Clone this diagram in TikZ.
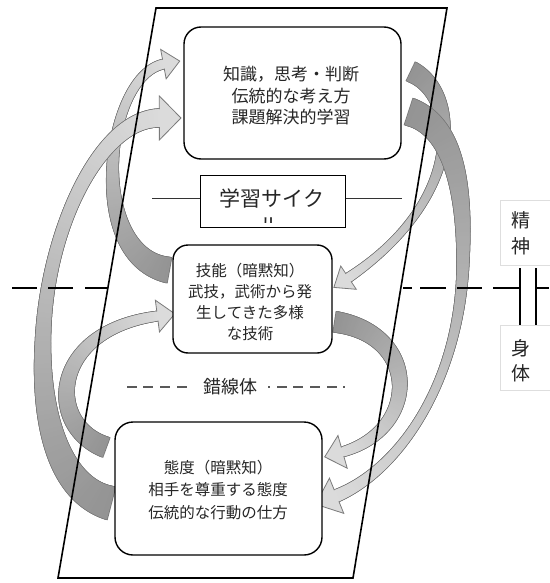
\documentclass[tikz,border=0pt]{standalone}
\usepackage{fontspec}
\newfontfamily\jp{Noto Sans CJK JP}
\usetikzlibrary{decorations.markings}
\colorlet{tailc}{black!42}
\colorlet{headc}{black!14}
\colorlet{bandline}{black!52}
\colorlet{txt}{black!85}
% #1 path, #2 tail width, #3 middle width, #4 end width, #5 head half-width, #6 head length, #7 tail colour, #8 head colour
\newcommand\bandarrow[8]{%
  \pgfmathsetmacro\bwA{#2/2}\pgfmathsetmacro\bwM{#3/2}\pgfmathsetmacro\bwB{#4/2}%
  \pgfmathsetmacro\bwC{2*\bwM-(\bwA+\bwB)/2}%
  \path[decorate,decoration={markings,mark=between positions 0 and 1 step 0.8pt with {%
      \pgfmathsetmacro\bT{\pgfkeysvalueof{/pgf/decoration/mark info/distance from start}/\pgfdecoratedpathlength}%
      \pgfmathsetmacro\bR{(1-\bT)^2*\bwA+2*\bT*(1-\bT)*\bwC+\bT^2*\bwB+0.8}%
      \fill[bandline] (-2pt,-\bR pt) rectangle (1.2pt,\bR pt);}}] #1;
  \path[decorate,decoration={markings,mark=between positions 0 and 1 step 0.8pt with {%
      \pgfmathsetmacro\bT{\pgfkeysvalueof{/pgf/decoration/mark info/distance from start}/\pgfdecoratedpathlength}%
      \pgfmathsetmacro\bR{(1-\bT)^2*\bwA+2*\bT*(1-\bT)*\bwC+\bT^2*\bwB}%
      \pgfmathtruncatemacro\bP{100*\bT}%
      \fill[#8!\bP!#7] (-1.2pt,-\bR pt) rectangle (1.2pt,\bR pt);}}] #1;
  \path[decorate,decoration={markings,mark=at position 0.9999 with {%
      \fill[#8] (-0.6pt,-#5pt) -- (#6pt,0pt) -- (-0.6pt,#5pt) -- cycle;
      \draw[bandline,line width=0.8pt,line join=miter] (-0.6pt,-\bwB pt) -- (-0.6pt,-#5pt) -- (#6pt,0pt) -- (-0.6pt,#5pt) -- (-0.6pt,\bwB pt);}}] #1;
}
\begin{document}
\begin{tikzpicture}[x=1pt,y=-1pt,
  box/.style={draw=black, line width=1.4pt, fill=white, inner sep=0pt},
  jtxt/.style={text=txt, align=center, inner sep=0pt},
  heavy/.style={line width=2.6pt, black},
  smalldash/.style={line width=1.3pt, black!65},
  sidebox/.style={draw=black!13, line width=0.8pt},
]
\useasboundingbox (0,0) rectangle (549,583);
\fill[white] (0,0) rectangle (549,583);

% arrow end points
\coordinate (aT) at (168,270); \coordinate (aH) at (164,64);
\coordinate (bT) at (110,503); \coordinate (bH) at (160,118);
\coordinate (cT) at (105,447); \coordinate (cH) at (158,316);
\coordinate (dT) at (412,72);  \coordinate (dH) at (348,278);
\coordinate (eT) at (410,112); \coordinate (eH) at (336,496);
\coordinate (fT) at (336,322); \coordinate (fH) at (342,452);

% curved arrows
\bandarrow{(aT) .. controls (85,255) and (105,75) .. (aH)}{25}{11}{9}{15}{16}{tailc}{headc}
\bandarrow{(bT) .. controls (60,490) and (40,420) .. (43,340) .. controls (46,230) and (100,118) .. (bH)}{33}{13}{18}{22}{21}{tailc}{headc}
\bandarrow{(cT) .. controls (45,425) and (50,330) .. (cH)}{20}{13}{9}{16}{17}{tailc}{headc}
\bandarrow{(dT) .. controls (460,95) and (465,200) .. (dH)}{20}{8}{9}{14}{17}{tailc}{headc}
\bandarrow{(eT) .. controls (450,125) and (465,180) .. (463,260) .. controls (461,380) and (400,470) .. (eH)}{27}{9}{12}{19}{22}{tailc}{headc}
\bandarrow{(fT) .. controls (420,335) and (420,430) .. (fH)}{20}{14}{9}{17}{18}{tailc}{headc}

% parallelogram
\draw[line width=1.6pt, line join=miter] (156,8) -- (447,8) -- (353,578) -- (58,578) -- cycle;

% dashed divider
\foreach \a/\b in {12/37,48/73,85/108,403/412,420/446,457/482,493/520,536/549}
  \draw[heavy] (\a,288) -- (\b,288);
\draw[line width=1.8pt] (520,268) -- (520,325);
\draw[line width=1.8pt] (536,268) -- (536,325);

% side labels
\draw[sidebox] (560,200) -- (500,200) -- (500,265) -- (560,265);
\draw[sidebox] (560,325) -- (500,325) -- (500,390) -- (560,390);
\node[jtxt, font=\jp\fontsize{19}{26}\selectfont] (seishin) at (521,233) {精\\神};
\node[jtxt, font=\jp\fontsize{19}{25}\selectfont] (shintai) at (521,361) {身\\体};

% boxes
\node[box, rounded corners=17pt, minimum width=217pt, minimum height=132pt] (know) at (292.5,93) {};
\node[box, rounded corners=15pt, minimum width=159pt, minimum height=108pt] (skill) at (252.5,299) {};
\node[box, rounded corners=18pt, minimum width=207pt, minimum height=133pt] (att) at (218.5,488.5) {};
\node[box, line width=1pt, minimum width=145pt, minimum height=52pt] (cyc) at (272.5,201) {};
\draw[line width=0.9pt, black!80] (152,198) -- (cyc.west |- 0,198);
\draw[line width=0.9pt, black!80] (cyc.east |- 0,198) -- (402,198);

% texts
\node[jtxt, font=\jp\fontsize{17}{21.5}\selectfont] (knowtxt) at (291,96) {知識，思考・判断\\伝統的な考え方\\課題解決的学習};
\node[jtxt, font=\jp\fontsize{15.5}{21}\selectfont] (skilltxt) at (250,302) {技能（暗黙知）\\武技，武術から発\\生してきた多様\\な技術};
\node[jtxt, font=\jp\fontsize{15.5}{22.5}\selectfont] (atttxt) at (218,490) {態度（暗黙知）\\相手を尊重する態度\\伝統的な行動の仕方};
\node[jtxt, font=\jp\fontsize{21}{25}\selectfont] (cyctxt) at (272,198) {学習サイク};
\begin{scope}
  \clip (201,176) rectangle (344,222);
  \node[jtxt, font=\jp\fontsize{21}{25}\selectfont] (cycru) at (270,226) {ル};
\end{scope}

% 錯線体 with dashes
\node[jtxt, font=\jp\fontsize{18}{22}\selectfont] (sakusen) at (230,387) {錯線体};
\foreach \a in {127,143,160,177}
  \draw[smalldash] (\a,387) -- (\a+10,387);
\foreach \a in {277,293,310,327}
  \draw[smalldash] (\a,387) -- (\a+10,387);
\draw[smalldash] (268,387) -- (270,387);
\draw[smalldash] (343,387) -- (345,387);
\end{tikzpicture}
\end{document}
